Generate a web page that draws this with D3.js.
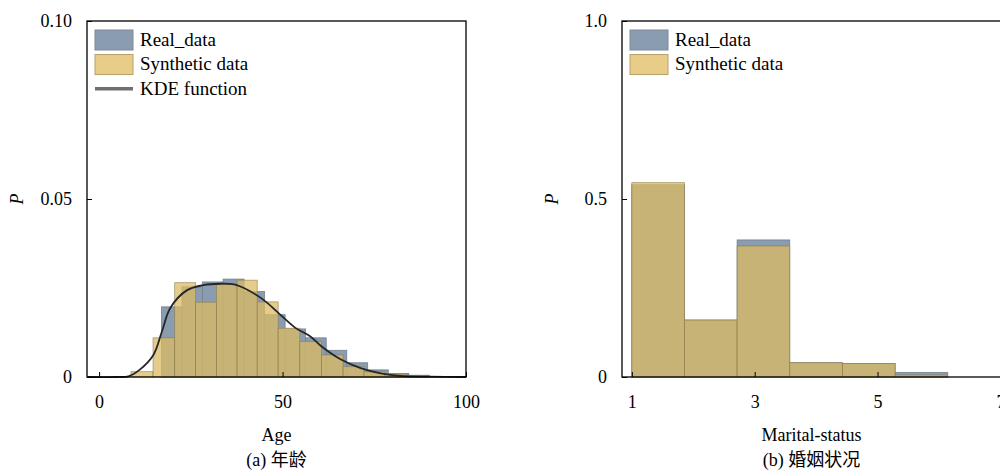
<!DOCTYPE html>
<html>
<head>
<meta charset="utf-8">
<script src="https://cdn.jsdelivr.net/npm/d3@7"></script>
<style>
  body{margin:0;background:#fff;}
  svg{display:block;font-family:"Liberation Serif","Times New Roman","Noto Sans CJK SC",serif;}
</style>
</head>
<body>
<div id="chart"></div>
<script>
// values (densities)
let ageRealEdges=[17,22.6,28.2,33.8,39.5,45.1,50.7,56.3,61.9,67.5,73.2,78.8,84.4,90]
let ageRealDensity=[0.0197,0.0253,0.0267,0.0275,0.024,0.0175,0.0135,0.011,0.0075,0.004,0.002,0.001,0.0005]
let ageSynthEdges=[8.7,14.7,20.6,26.3,32.0,37.6,43.1,48.8,54.7,60.6,66.5,72.2,77.9,83.6,89.5]
let ageSynthDensity=[0.0015,0.011,0.0265,0.021,0.026,0.0272,0.0211,0.0137,0.010,0.0062,0.0029,0.0015,0.0008,0.0004]
let kdeAge=[-3,5,8,11,14.8,17.1,19.4,24,28.4,33,36.8,40.4,44.9,49.5,53.5,57.6,60.4,65.8,71.3,76.8,82.2,90,100]
let kdeDensity=[0,0,0.0002,0.002,0.0062,0.0127,0.0194,0.0244,0.0258,0.0262,0.026,0.0245,0.0216,0.0174,0.0138,0.0114,0.0088,0.005,0.0025,0.001,0.0003,0.0001,0]

let maritalEdges=[1,1.857,2.714,3.571,4.429,5.286,6.143,7]
let maritalReal=[0.54,0.16,0.385,0.04,0.038,0.013,0]
let maritalSynth=[0.546,0.16,0.368,0.04,0.038,0.0056,0]

let ageXTicks=[0,50,100]
let ageYTicks=[0,0.05,0.1]
let maritalXTicks=[1,3,5,7]
let maritalYTicks=[0,0.5,1]

const width=1000
const height=470
const svg=d3.select("#chart").append("svg").attr("width",width).attr("height",height)

//turn edges + heights into bar objects
function makeBars(edges,values){
    return values.map((v,i)=>({x0:edges[i],x1:edges[i+1],v:v}))
}

function drawPanel(cfg){
    let left=cfg.left, right=cfg.left+379, top=21, bottom=377
    let x=d3.scaleLinear().domain(cfg.xDomain).range([left,right])
    let y=d3.scaleLinear().domain([0,cfg.yMax]).range([bottom,top])
    let g=svg.append("g")

    //real bars first, synthetic over them
    g.selectAll("rect.real").data(makeBars(cfg.realEdges,cfg.real)).enter()
        .append("rect").attr("class","real")
        .attr("x",d=>x(d.x0)).attr("width",d=>x(d.x1)-x(d.x0))
        .attr("y",d=>y(d.v)).attr("height",d=>y(0)-y(d.v))
        .attr("fill","#8a9cb0").attr("stroke","#73818f").attr("stroke-width",0.8)
    g.selectAll("rect.synth").data(makeBars(cfg.synthEdges,cfg.synth)).enter()
        .append("rect").attr("class","synth")
        .attr("x",d=>x(d.x0)).attr("width",d=>x(d.x1)-x(d.x0))
        .attr("y",d=>y(d.v)).attr("height",d=>y(0)-y(d.v))
        .attr("fill","#dcbb63").attr("fill-opacity",0.75)
        .attr("stroke","#8a7a4a").attr("stroke-opacity",0.7).attr("stroke-width",0.8)

    if(cfg.kdeX){
        let line=d3.line().x(d=>x(d[0])).y(d=>y(d[1])).curve(d3.curveCatmullRom.alpha(0.5))
        g.append("path").datum(cfg.kdeX.map((v,i)=>[v,cfg.kdeY[i]]))
            .attr("d",line).attr("fill","none").attr("stroke","#262626").attr("stroke-width",1.8)
    }

    //axes with inward ticks
    let xAxis=d3.axisBottom(x).tickValues(cfg.xTicks).tickFormat(d3.format("d")).tickSizeInner(-5).tickSizeOuter(0).tickPadding(18)
    let yAxis=d3.axisLeft(y).tickValues(cfg.yTicks).tickFormat(cfg.yFormat).tickSizeInner(-5).tickSizeOuter(0).tickPadding(15)
    let gx=g.append("g").attr("transform",`translate(0,${bottom})`).call(xAxis)
    let gy=g.append("g").attr("transform",`translate(${left},0)`).call(yAxis)
    ;[gx,gy].forEach(a=>{
        a.attr("font-family",null).attr("font-size",null)
        a.select(".domain").remove()
        a.selectAll("text").attr("font-size",18).attr("fill","#000")
        a.selectAll("line").attr("stroke","#000")
    })

    //frame
    g.append("rect").attr("x",left).attr("y",top).attr("width",right-left).attr("height",bottom-top)
        .attr("fill","none").attr("stroke","#000").attr("stroke-width",1.3)

    //legend
    let legend=g.append("g")
    cfg.legend.forEach((item,i)=>{
        let ly=30+i*24.5
        if(item.type=="line"){
            legend.append("rect").attr("x",left+8).attr("y",ly+8).attr("width",38).attr("height",3.5).attr("fill","#707070")
        }else{
            legend.append("rect").attr("x",left+8).attr("y",ly).attr("width",38).attr("height",20)
                .attr("fill",item.color).attr("stroke",item.border).attr("stroke-width",1)
        }
        legend.append("text").attr("x",left+53).attr("y",ly+15.5).attr("font-size",19).text(item.label)
    })

    //labels
    let cx=(left+right)/2
    svg.append("text").attr("x",cx).attr("y",441).attr("text-anchor","middle").attr("font-size",18).text(cfg.xLabel)
    svg.append("text").attr("x",cx).attr("y",466).attr("text-anchor","middle").attr("font-size",18).text(cfg.caption)
    svg.append("text").attr("transform",`translate(${left-70},199) rotate(-90)`).attr("text-anchor","middle")
        .attr("dy","0.35em").attr("font-size",18).attr("font-style","italic").text("P")
}

let legendBars=[
    {label:"Real_data",color:"#8a9cb0",border:"#7d8a96"},
    {label:"Synthetic data",color:"#e8cd89",border:"#b8a26a"}
]

drawPanel({
    left:87,xDomain:[-3.3,100],yMax:0.1,
    realEdges:ageRealEdges,real:ageRealDensity,
    synthEdges:ageSynthEdges,synth:ageSynthDensity,
    kdeX:kdeAge,kdeY:kdeDensity,
    xTicks:ageXTicks,yTicks:ageYTicks,yFormat:d=>d==0?"0":d3.format(".2f")(d),
    legend:legendBars.concat([{label:"KDE function",type:"line"}]),
    xLabel:"Age",caption:"(a) 年龄"
})

drawPanel({
    left:622,xDomain:[0.84,7.01],yMax:1,
    realEdges:maritalEdges,real:maritalReal,
    synthEdges:maritalEdges,synth:maritalSynth,
    xTicks:maritalXTicks,yTicks:maritalYTicks,yFormat:d=>d==0?"0":d3.format(".1f")(d),
    legend:legendBars,
    xLabel:"Marital-status",caption:"(b) 婚姻状况"
})
</script>
</body>
</html>
